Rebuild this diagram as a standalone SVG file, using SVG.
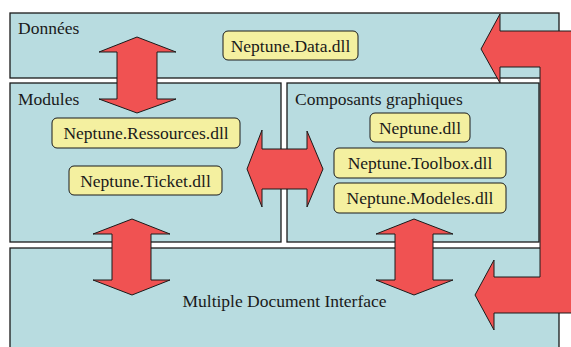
<svg xmlns="http://www.w3.org/2000/svg" width="571" height="347" viewBox="0 0 571 347">
<style>
.box{fill:#b8dce0;stroke:#1a1a1a;stroke-width:1.3}
.dll{fill:#f4f0a0;stroke:#1a1a1a;stroke-width:1}
.arr{fill:#f05252;stroke:#1a1a1a;stroke-width:1;stroke-linejoin:miter}
.c{text-anchor:middle}
</style>
<rect width="571" height="347" fill="#ffffff"/>
<g font-family="Liberation Serif, Times New Roman, Times, serif" font-size="17.5" fill="#1a1a1a">
<g id="donnees">
<rect class="box" x="10" y="13" width="549" height="65"/>
<text x="18" y="34">Données</text>
</g>
<g id="modules">
<rect class="box" x="10" y="83" width="271" height="159"/>
<text x="18" y="105">Modules</text>
</g>
<g id="composants">
<rect class="box" x="287" y="83" width="252" height="159"/>
<text x="295" y="105">Composants graphiques</text>
</g>
<g id="mdi">
<rect class="box" x="10" y="248" width="549" height="120"/>
<text class="c" x="284.5" y="307">Multiple Document Interface</text>
</g>
<g id="data-dll">
<rect class="dll" x="223" y="31" width="135" height="29" rx="5"/>
<text class="c" x="290.5" y="51.5">Neptune.Data.dll</text>
</g>
<g id="ressources-dll">
<rect class="dll" x="52" y="118" width="188" height="30" rx="5"/>
<text class="c" x="146" y="139">Neptune.Ressources.dll</text>
</g>
<g id="ticket-dll">
<rect class="dll" x="69" y="166" width="153" height="29" rx="5"/>
<text class="c" x="145.5" y="186.5">Neptune.Ticket.dll</text>
</g>
<g id="neptune-dll">
<rect class="dll" x="370" y="113" width="100" height="29" rx="5"/>
<text class="c" x="420" y="133.5">Neptune.dll</text>
</g>
<g id="toolbox-dll">
<rect class="dll" x="334" y="148" width="172" height="30" rx="5"/>
<text class="c" x="420" y="169">Neptune.Toolbox.dll</text>
</g>
<g id="modeles-dll">
<rect class="dll" x="334" y="183" width="172" height="30" rx="5"/>
<text class="c" x="420" y="204">Neptune.Modeles.dll</text>
</g>
</g>
<g id="connectors">
<polygon class="arr" points="137,37 176,52 157,52 157,99 176,99 137,113 99,99 117,99 117,52 99,52"/>
<polygon class="arr" points="247,169 262,130 262,149 307,149 307,131 323,169 307,207 307,189 262,189 262,207"/>
<polygon class="arr" points="132,219 170,234 151,234 151,280 170,280 132,295 93,280 112,280 112,234 93,234"/>
<polygon class="arr" points="414,219 453,234 433,234 433,280 453,280 414,295 376,280 395,280 395,234 376,234"/>
<polygon class="arr" points="481,49 500,14 500,31 580,31 580,313 494,313 494,330 475,295 494,260 494,277 540,277 540,67 500,67 500,83"/>
</g>
</svg>
